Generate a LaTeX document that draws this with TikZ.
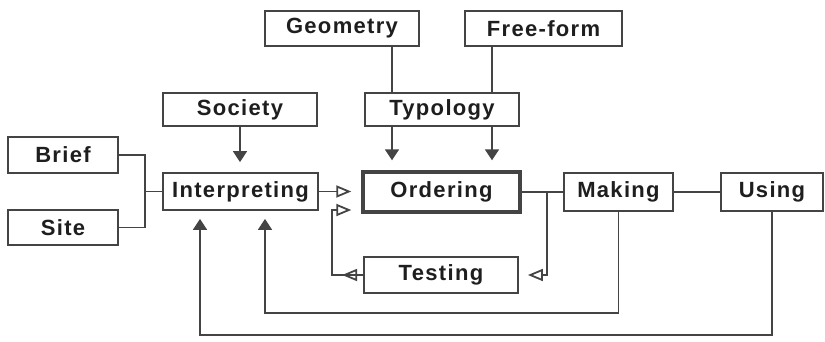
\documentclass[tikz,border=0pt]{standalone}
\usepackage{fontspec}
\setmainfont[LetterSpace=6]{Liberation Sans}
\usetikzlibrary{arrows.meta,decorations.markings}
\definecolor{linec}{HTML}{444444}
\definecolor{textc}{HTML}{1E1E1E}
\tikzset{
  box/.style={draw=linec, line width=0.9pt, inner sep=0pt, fill=white,
    font=\fontsize{11}{13}\selectfont\bfseries, text=textc},
  wire/.style={draw=linec, line width=0.9pt},
  solidtip/.style={wire, -{Triangle[length=5.5pt,width=7pt]}},
  opentip/.style={wire, -{Triangle[open,length=7.5pt,width=6pt]}},
}
\begin{document}
\begin{tikzpicture}[x=0.5pt,y=-0.5pt]
\useasboundingbox (0,0) rectangle (825,342);

% boxes
\node[box, minimum width=77pt,   minimum height=17.5pt] (geo) at (342,28.5)   {Geometry};
\node[box, minimum width=78.5pt, minimum height=17.5pt] (fre) at (543.5,28.5) {Free-form};
\node[box, minimum width=77pt,   minimum height=16.5pt] (soc) at (240,109.5)  {Society};
\node[box, minimum width=77pt,   minimum height=16.5pt] (typ) at (442,109.5)  {Typology};
\node[box, minimum width=55pt,   minimum height=18pt]   (bri) at (63,155)     {Brief};
\node[box, minimum width=55pt,   minimum height=17.5pt] (sit) at (63,227.5)   {Site};
\node[box, minimum width=77.5pt, minimum height=18.5pt] (int) at (240.5,191.5){Interpreting};
\node[box, line width=1.7pt, minimum width=78.5pt, minimum height=20pt] (ord) at (441.5,192) {Ordering};
\node[box, minimum width=54.5pt, minimum height=19pt]   (mak) at (618.5,192)  {Making};
\node[box, minimum width=51pt,   minimum height=19pt]   (use) at (772,192)    {Using};
\node[box, minimum width=77pt,   minimum height=18pt]   (tst) at (441,275)    {Testing};

% routing points
\coordinate (gx) at (392,0);
\coordinate (fx) at (492,0);
\coordinate (jb) at (145,191.5);
\coordinate (lp) at (332,210);
\coordinate (jx) at (547,192);
\coordinate (b1) at (265,313);
\coordinate (b2) at (200,335);

% inputs to interpreting
\draw[wire] (bri.east) -| (jb) |- (sit.east);
\draw[wire] (jb) -- (int.west);
\draw[solidtip, shorten >=5pt] (soc.south) -- (soc.south |- int.north);

% geometry and free-form through typology
\draw[wire] (geo.south -| gx) -- (typ.north -| gx);
\draw[wire] (fre.south -| fx) -- (typ.north -| fx);
\draw[solidtip, shorten >=5pt] (typ.south -| gx) -- (ord.north -| gx);
\draw[solidtip, shorten >=5pt] (typ.south -| fx) -- (ord.north -| fx);

% main chain
\draw[opentip, shorten >=5pt] (int.east) -- (int.east -| ord.west);
\draw[wire] (ord.east) -- (mak.west);
\draw[wire] (mak.east) -- (use.west);

% testing loop
\draw[opentip, shorten >=4.5pt] (jx) |- (tst.east);
\draw[opentip, shorten >=5pt,
  postaction={decorate},
  decoration={markings, mark=at position 10.5pt with {\arrow[linec]{Triangle[open,length=7.5pt,width=6pt]}}}]
  (tst.west) -| (lp) -- (lp -| ord.west);

% feedback from making and using
\draw[solidtip, shorten >=4pt] (mak.south) |- (b1) -- (b1 |- int.south);
\draw[solidtip, shorten >=4pt] (use.south) |- (b2) -- (b2 |- int.south);
\end{tikzpicture}
\end{document}
